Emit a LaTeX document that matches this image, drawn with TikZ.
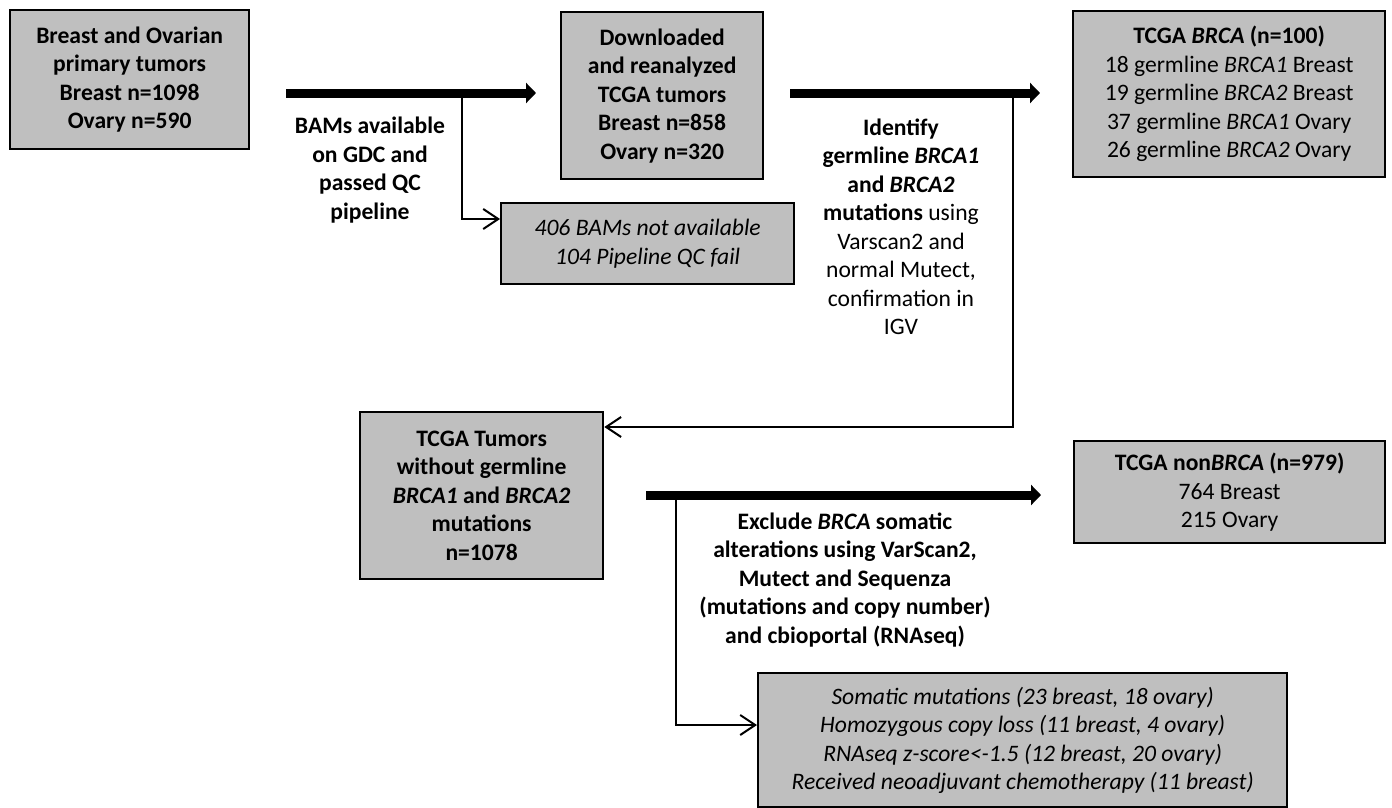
\documentclass[tikz,border=0pt]{standalone}
\usepackage{fontspec}
\setmainfont{Carlito}
\usetikzlibrary{arrows.meta}
\definecolor{boxgray}{RGB}{191,191,191}
\newcommand{\dfont}{\fontsize{23.6}{28.5}\selectfont}
\begin{document}
\begin{tikzpicture}[x=1pt,y=-1pt,
  box/.style={draw=black, line width=2.3pt, fill=boxgray, align=center, anchor=north west, inner sep=0pt},
  lbl/.style={align=center, inner sep=0pt},
  bigarrow/.style={line width=9pt, -{Triangle[length=10pt,width=20pt]}},
  smallarrow/.style={line width=2pt, -{Straight Barb[length=15pt,width=20pt]}}]
\useasboundingbox (0,0) rectangle (1392,808);

% boxes
\node[box, minimum width=239pt, minimum height=139pt, font=\dfont\bfseries] (b1) at (9,9)
  {Breast and Ovarian\\primary tumors\\Breast n=1098\\Ovary n=590};
\node[box, minimum width=202pt, minimum height=167pt, font=\dfont\bfseries] (b2) at (560,11)
  {Downloaded\\and reanalyzed\\TCGA tumors\\Breast n=858\\Ovary n=320};
\node[box, minimum width=293pt, minimum height=81pt, font=\dfont\itshape] (bf) at (500,202)
  {406 BAMs not available\\104 Pipeline QC fail};
\node[box, minimum width=312pt, minimum height=166pt, font=\dfont] (b3) at (1072,10)
  {\textbf{TCGA \textit{BRCA} (n=100)}\\18 germline \textit{BRCA1} Breast\\19 germline \textit{BRCA2} Breast\\37 germline \textit{BRCA1} Ovary\\26 germline \textit{BRCA2} Ovary};
\node[box, minimum width=243pt, minimum height=167pt, font=\dfont\bfseries] (b4) at (359,411)
  {TCGA Tumors\\without germline\\\textit{BRCA1} and \textit{BRCA2}\\mutations\\n=1078};
\node[box, minimum width=311pt, minimum height=102pt, font=\dfont] (b5) at (1073,440)
  {\textbf{TCGA non\textit{BRCA} (n=979)}\\764 Breast\\215 Ovary};
\node[box, minimum width=529pt, minimum height=134pt, font=\dfont\itshape] (b6) at (757,672)
  {Somatic mutations (23 breast, 18 ovary)\\Homozygous copy loss (11 breast, 4 ovary)\\RNAseq z-score<-1.5 (12 breast, 20 ovary)\\Received neoadjuvant chemotherapy (11 breast)};

% labels
\node[lbl, font=\dfont\bfseries] (l1) at (370,170) {BAMs available\\on GDC and\\passed QC\\pipeline};
\node[lbl, font=\dfont] (l2) at (901,227) {\textbf{Identify}\\\textbf{germline \textit{BRCA1}}\\\textbf{and \textit{BRCA2}}\\\textbf{mutations} using\\Varscan2 and\\normal Mutect,\\confirmation in\\IGV};
\node[lbl, font=\dfont\bfseries] (l3) at (845,580) {Exclude \textit{BRCA} somatic\\alterations using VarScan2,\\Mutect and Sequenza\\(mutations and copy number)\\and cbioportal (RNAseq)};

% connector points
\coordinate (a1s) at (286,93);  \coordinate (a1e) at (536,93);  \coordinate (j1) at (462,93);
\coordinate (a2s) at (790,93);  \coordinate (a2e) at (1040,93); \coordinate (j2) at (1013,93);
\coordinate (a3s) at (646,495); \coordinate (a3e) at (1041,495); \coordinate (j3) at (676,495);

% thin branch connectors
\draw[smallarrow] (j1) |- ([yshift=-17pt]bf.north west);
\draw[smallarrow] (j2) |- ([yshift=-16pt]b4.north east);
\draw[smallarrow] (j3) |- ([yshift=-53pt]b6.north west);

% thick arrows
\draw[bigarrow] (a1s) -- (a1e);
\draw[bigarrow] (a2s) -- (a2e);
\draw[bigarrow] (a3s) -- (a3e);
\end{tikzpicture}
\end{document}
